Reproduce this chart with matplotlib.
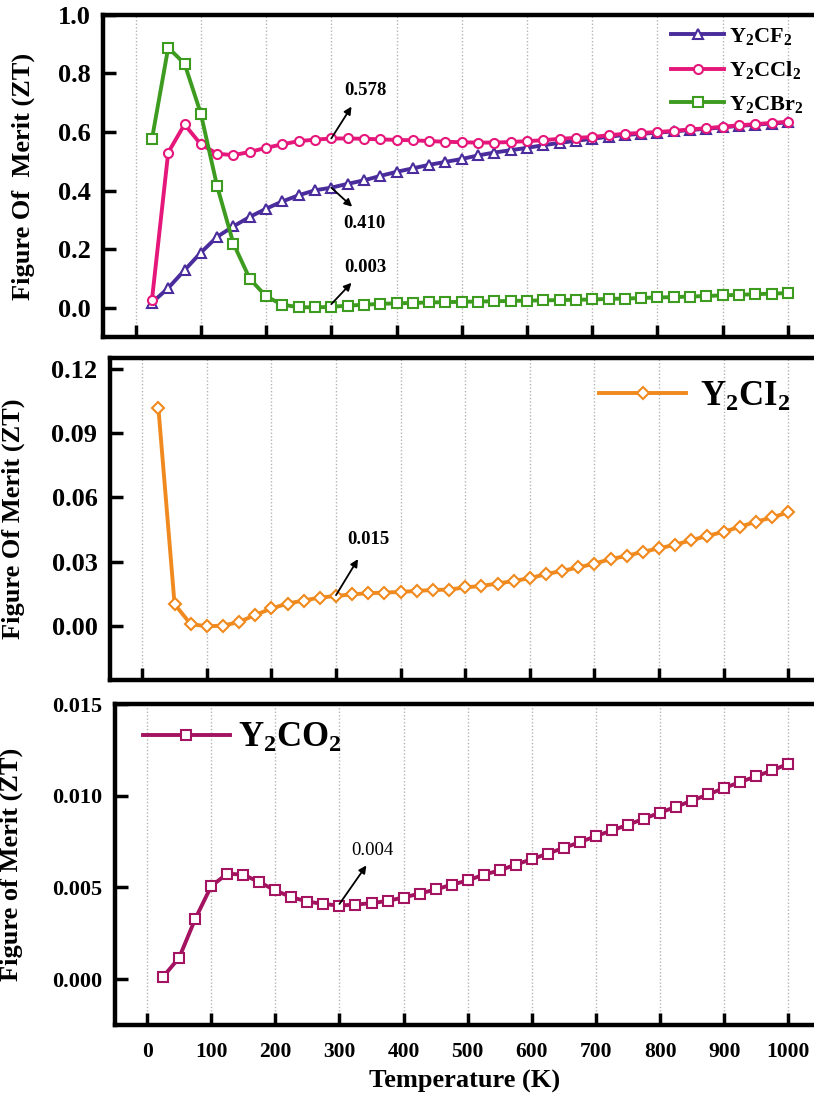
"""
Figure of merit (ZT) vs temperature for Y2CX2 monolayers, three stacked panels.
"""

import matplotlib
matplotlib.use("Agg")
import matplotlib.pyplot as plt

plt.rcParams["font.family"] = ["Liberation Serif", "DejaVu Serif"]
plt.rcParams["font.weight"] = "bold"
plt.rcParams["mathtext.fontset"] = "custom"
plt.rcParams["mathtext.rm"] = "Liberation Serif:bold"
plt.rcParams["mathtext.it"] = "Liberation Serif:bold:italic"
plt.rcParams["mathtext.bf"] = "Liberation Serif:bold"

TEMPS = [25, 50, 75, 100, 125, 150, 175, 200, 225, 250,
         275, 300, 325, 350, 375, 400, 425, 450, 475, 500,
         525, 550, 575, 600, 625, 650, 675, 700, 725, 750,
         775, 800, 825, 850, 875, 900, 925, 950, 975, 1000]

ZT_CF2 = [0.017, 0.067, 0.128, 0.188, 0.242, 0.278, 0.310, 0.338, 0.363, 0.384,
          0.401, 0.410, 0.423, 0.435, 0.450, 0.464, 0.476, 0.488, 0.498, 0.508,
          0.520, 0.530, 0.538, 0.546, 0.555, 0.563, 0.570, 0.577, 0.584, 0.590,
          0.594, 0.598, 0.602, 0.607, 0.611, 0.616, 0.621, 0.625, 0.629, 0.633]

ZT_CCL2 = [0.025, 0.530, 0.626, 0.558, 0.526, 0.521, 0.532, 0.546, 0.558, 0.569,
           0.574, 0.578, 0.578, 0.577, 0.575, 0.573, 0.572, 0.569, 0.567, 0.565,
           0.564, 0.564, 0.566, 0.569, 0.572, 0.577, 0.580, 0.583, 0.589, 0.594,
           0.597, 0.600, 0.604, 0.609, 0.613, 0.618, 0.623, 0.627, 0.631, 0.635]

ZT_CBR2 = [0.575, 0.888, 0.834, 0.663, 0.415, 0.219, 0.099, 0.039, 0.010, 0.002,
           0.001, 0.003, 0.007, 0.010, 0.013, 0.015, 0.016, 0.018, 0.019, 0.020,
           0.021, 0.022, 0.023, 0.024, 0.025, 0.026, 0.027, 0.028, 0.030, 0.031,
           0.033, 0.035, 0.036, 0.038, 0.040, 0.042, 0.044, 0.046, 0.048, 0.050]

ZT_CI2 = [0.1016, 0.0103, 0.0010, 0.0000, 0.0003, 0.0020, 0.0053, 0.0083, 0.0106, 0.0120,
          0.0134, 0.0141, 0.0149, 0.0154, 0.0157, 0.0160, 0.0165, 0.0169, 0.0171, 0.0181,
          0.0188, 0.0199, 0.0211, 0.0224, 0.0243, 0.0258, 0.0274, 0.0292, 0.0313, 0.0328,
          0.0347, 0.0363, 0.0380, 0.0401, 0.0421, 0.0440, 0.0463, 0.0487, 0.0507, 0.0531]

ZT_CO2 = [0.00013, 0.00117, 0.00328, 0.00507, 0.00575, 0.00570, 0.00529, 0.00484, 0.00447, 0.00423,
          0.00410, 0.00401, 0.00407, 0.00414, 0.00427, 0.00445, 0.00467, 0.00489, 0.00515, 0.00538,
          0.00570, 0.00593, 0.00625, 0.00654, 0.00685, 0.00716, 0.00747, 0.00780, 0.00811, 0.00842,
          0.00875, 0.00908, 0.00940, 0.00974, 0.01007, 0.01042, 0.01075, 0.01106, 0.01139, 0.01174]

C_CF2 = "#4a2c9c"
C_CCL2 = "#e5177b"
C_CBR2 = "#3d9c1f"
C_CI2 = "#f08a1e"
C_CO2 = "#a3135f"

XTICKS = list(range(0, 1001, 100))


def style_axes(ax, yticks, fmt, ylim, ticksize, show_xlabels):
    ax.set_xlim(-50, 1040)
    ax.set_ylim(*ylim)
    ax.set_xticks(XTICKS)
    ax.set_yticks(yticks)
    ax.set_yticklabels([fmt.format(v) for v in yticks])
    if not show_xlabels:
        ax.set_xticklabels([])
    ax.tick_params(axis="both", direction="in", length=9, width=2.5,
                   labelsize=ticksize, pad=9)
    ax.tick_params(axis="x", labelsize=15.5, pad=12)
    ax.xaxis.grid(True, linestyle=(0, (1, 1.5)), color="#b5b5b5", linewidth=1.0)
    ax.set_axisbelow(True)
    for side in ["left", "top", "bottom"]:
        ax.spines[side].set_linewidth(3.2)
    ax.spines["right"].set_visible(False)


def arrow(ax, tail, head):
    ax.annotate("", xy=head, xytext=tail,
                arrowprops=dict(arrowstyle="-|>", color="black", lw=1.3,
                                mutation_scale=11, shrinkA=0, shrinkB=0))


fig = plt.figure(figsize=(8.14, 10.99), dpi=100)

# ---- top panel ----
ax1 = fig.add_axes([0.1265, 0.6934, 0.8735, 0.293])
line_kw = dict(linewidth=2.8, markersize=6.5, markeredgewidth=1.5, markerfacecolor="white")
ax1.plot(TEMPS, ZT_CF2, marker="^", color=C_CF2, label=r"Y$_2$CF$_2$", **line_kw)
ax1.plot(TEMPS, ZT_CCL2, marker="o", color=C_CCL2, label=r"Y$_2$CCl$_2$", **line_kw)
ax1.plot(TEMPS, ZT_CBR2, marker="s", color=C_CBR2, label=r"Y$_2$CBr$_2$", **line_kw)
style_axes(ax1, [0.0, 0.2, 0.4, 0.6, 0.8, 1.0], "{:.1f}", (-0.1, 1.0), 19, False)
ax1.set_ylabel("Figure Of  Merit (ZT)", fontsize=19, fontweight="bold")
ax1.yaxis.set_label_coords(-0.096, 0.5)
ax1.legend(loc="upper right", bbox_to_anchor=(0.985, 0.965), frameon=False,
           fontsize=16, handlelength=2.4, handletextpad=0.2, labelspacing=0.55,
           borderpad=0, borderaxespad=0)
arrow(ax1, (300, 0.578), (331, 0.687))
ax1.text(352, 0.743, "0.578", fontsize=13.5, fontweight="bold", ha="center", va="center")
arrow(ax1, (300, 0.410), (332, 0.345))
ax1.text(351, 0.287, "0.410", fontsize=13.5, fontweight="bold", ha="center", va="center")
arrow(ax1, (300, 0.012), (331, 0.085))
ax1.text(352, 0.137, "0.003", fontsize=13.5, fontweight="bold", ha="center", va="center")

# ---- middle panel ----
ax2 = fig.add_axes([0.1351, 0.3813, 0.8649, 0.293])
ax2.plot(TEMPS, ZT_CI2, marker="D", color=C_CI2, label=r"Y$_2$CI$_2$",
         linewidth=2.8, markersize=6.5, markeredgewidth=1.5, markerfacecolor="white")
style_axes(ax2, [0.00, 0.03, 0.06, 0.09, 0.12], "{:.2f}", (-0.025, 0.125), 19, False)
ax2.set_ylabel("Figure Of Merit (ZT)", fontsize=19, fontweight="bold")
ax2.yaxis.set_label_coords(-0.121, 0.5)
ax2.legend(loc="upper left", bbox_to_anchor=(0.695, 0.93), frameon=False,
           fontsize=25, handlelength=2.5, handletextpad=0.4,
           borderpad=0, borderaxespad=0)
arrow(ax2, (300, 0.0145), (334, 0.0313))
ax2.text(350, 0.0406, "0.015", fontsize=13.5, fontweight="bold", ha="center", va="center")

# ---- bottom panel ----
ax3 = fig.add_axes([0.1413, 0.0673, 0.8587, 0.2921])
ax3.plot(TEMPS, ZT_CO2, marker="s", color=C_CO2, label=r"Y$_2$CO$_2$",
         linewidth=2.8, markersize=7, markeredgewidth=1.5, markerfacecolor="white")
style_axes(ax3, [0.000, 0.005, 0.010, 0.015], "{:.3f}", (-0.0025, 0.015), 16, True)
ax3.set_ylabel("Figure of Merit (ZT)", fontsize=19, fontweight="bold")
ax3.yaxis.set_label_coords(-0.132, 0.5)
ax3.set_xlabel("Temperature (K)", fontsize=19, fontweight="bold", labelpad=6)
ax3.legend(loc="upper left", bbox_to_anchor=(0.04, 0.945), frameon=False,
           fontsize=25, handlelength=2.5, handletextpad=0.25,
           borderpad=0, borderaxespad=0)
arrow(ax3, (300, 0.0041), (342, 0.0062))
ax3.text(351, 0.00703, "0.004", fontsize=13.5, fontweight="normal", ha="center", va="center")

fig.savefig("out.png", dpi=100)
